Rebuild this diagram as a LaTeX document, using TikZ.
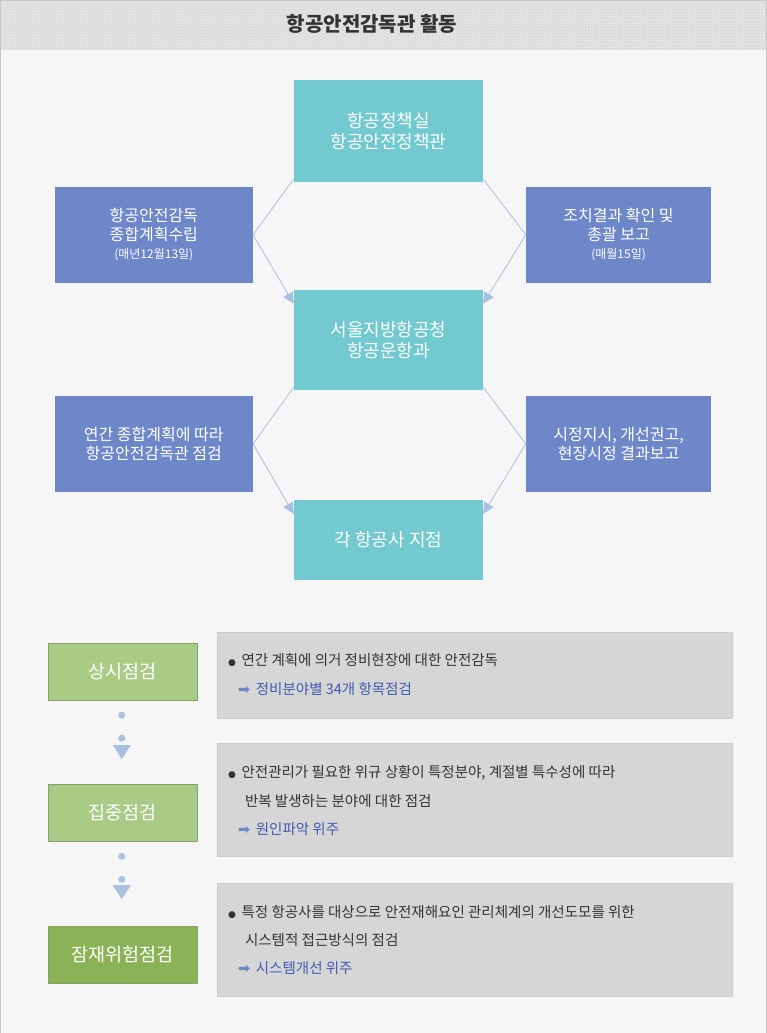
\documentclass[tikz,border=0pt]{standalone}
\usepackage{fontspec}
\setmainfont{Noto Sans CJK KR}
\newfontfamily\symfont{DejaVu Sans}
\usepackage{tikz}
\usetikzlibrary{patterns,arrows.meta}
\definecolor{tealbox}{HTML}{72C9CF}
\definecolor{bluebox}{HTML}{6D87C9}
\definecolor{greenbox}{HTML}{A9CB86}
\definecolor{darkgreen}{HTML}{8AB356}
\definecolor{flowline}{HTML}{A9C1E0}
\definecolor{infotext}{HTML}{3F5BB0}
\tikzset{
  tealnode/.style={fill=tealbox, text=white, font=\fontsize{18}{21}\selectfont, align=center},
  bluenode/.style={fill=bluebox, text=white, font=\fontsize{16}{19}\selectfont, align=center},
  stagenode/.style={fill=greenbox, draw=greenbox!80!black, text=white, font=\fontsize{18.5}{22}\selectfont},
  infobox/.style={fill=gray!32, draw=gray!40},
  flow/.style={flowline, line width=0.8pt},
  flowarrow/.style={flow, -{Triangle[length=11pt,width=11pt]}}
}
\begin{document}
\begin{tikzpicture}[x=1pt, y=-1pt]
    % background and header
    \draw[fill=gray!7, draw=gray!45] (0.5, 0.5) rectangle (766.5, 1032.5);
    \fill[gray!20] (1, 1) rectangle (766, 50);
    \fill[pattern=crosshatch dots, pattern color=gray!45] (1, 1) rectangle (766, 50);
    \node[font=\fontsize{20}{23}\selectfont\bfseries, text=black!80] (title) at (372, 24) {항공안전감독관 활동};

    % centre column
    \node[tealnode, minimum width=189pt, minimum height=102pt] (policy) at (388.5, 131) {항공정책실\\항공안전정책관};
    \node[tealnode, minimum width=189pt, minimum height=100pt] (seoul) at (388.5, 340) {서울지방항공청\\항공운항과};
    \node[tealnode, minimum width=189pt, minimum height=80pt] (airline) at (388.5, 540) {각 항공사 지점};

    % side boxes
    \node[bluenode, minimum width=198pt, minimum height=96pt] (plan) at (154, 235) {항공안전감독\\종합계획수립\\[-1pt]{\fontsize{12}{14}\selectfont (매년12월13일)}};
    \node[bluenode, minimum width=185pt, minimum height=96pt] (report) at (618.5, 235) {조치결과 확인 및\\총괄 보고\\[-1pt]{\fontsize{12}{14}\selectfont (매월15일)}};
    \node[bluenode, minimum width=198pt, minimum height=96pt] (check) at (154, 444) {연간 종합계획에 따라\\항공안전감독관 점검};
    \node[bluenode, minimum width=185pt, minimum height=96pt] (order) at (618.5, 444) {시정지시, 개선권고,\\현장시정 결과보고};

    % flow lines
    \draw[flowarrow] ([yshift=3pt]policy.south west) -- (plan.east) -- ([yshift=-14pt]seoul.north west);
    \draw[flowarrow] ([yshift=3pt]policy.south east) -- (report.west) -- ([yshift=-14pt]seoul.north east);
    \draw[flowarrow] ([yshift=3pt]seoul.south west) -- (check.east) -- ([yshift=-14pt]airline.north west);
    \draw[flowarrow] ([yshift=3pt]seoul.south east) -- (order.west) -- ([yshift=-14pt]airline.north east);

    % inspection stages
    \node[stagenode, minimum width=149pt, minimum height=57pt] (regular) at (122.5, 671.5) {상시점검};
    \node[stagenode, minimum width=149pt, minimum height=57pt] (focused) at (122.5, 812.5) {집중점검};
    \node[stagenode, fill=darkgreen, minimum width=149pt, minimum height=57pt] (latent) at (122.5, 954.5) {잠재위험점검};

    \foreach \y in {715, 738, 856, 879}
        \fill[flowline] (122, \y) circle (3.5pt);
    \fill[flowline] (113, 745) -- (131, 745) -- (122, 759) -- cycle;
    \fill[flowline] (113, 885) -- (131, 885) -- (122, 899) -- cycle;

    % detail boxes
    \draw[infobox] (217, 632) rectangle (732, 718);
    \draw[infobox] (217, 743) rectangle (732, 856);
    \draw[infobox] (217, 883) rectangle (732, 996);

    \begin{scope}[every node/.style={anchor=west, font=\fontsize{14.5}{17}\selectfont, text=black!80, inner sep=0pt}]
        \node (r1) at (228, 660) {{\symfont\small ●}\, 연간 계획에 의거 정비현장에 대한 안전감독};
        \node[text=infotext] (r2) at (238, 689) {{\symfont\color{bluebox}➡}\, 정비분야별 34개 항목점검};
        \node (f1) at (228, 773) {{\symfont\small ●}\, 안전관리가 필요한 위규 상황이 특정분야, 계절별 특수성에 따라};
        \node (f2) at (245, 801) {반복 발생하는 분야에 대한 점검};
        \node[text=infotext] (f3) at (238, 829) {{\symfont\color{bluebox}➡}\, 원인파악 위주};
        \node (l1) at (228, 912) {{\symfont\small ●}\, 특정 항공사를 대상으로 안전재해요인 관리체계의 개선도모를 위한};
        \node (l2) at (245, 940) {시스템적 접근방식의 점검};
        \node[text=infotext] (l3) at (238, 968) {{\symfont\color{bluebox}➡}\, 시스템개선 위주};
    \end{scope}
\end{tikzpicture}
\end{document}
